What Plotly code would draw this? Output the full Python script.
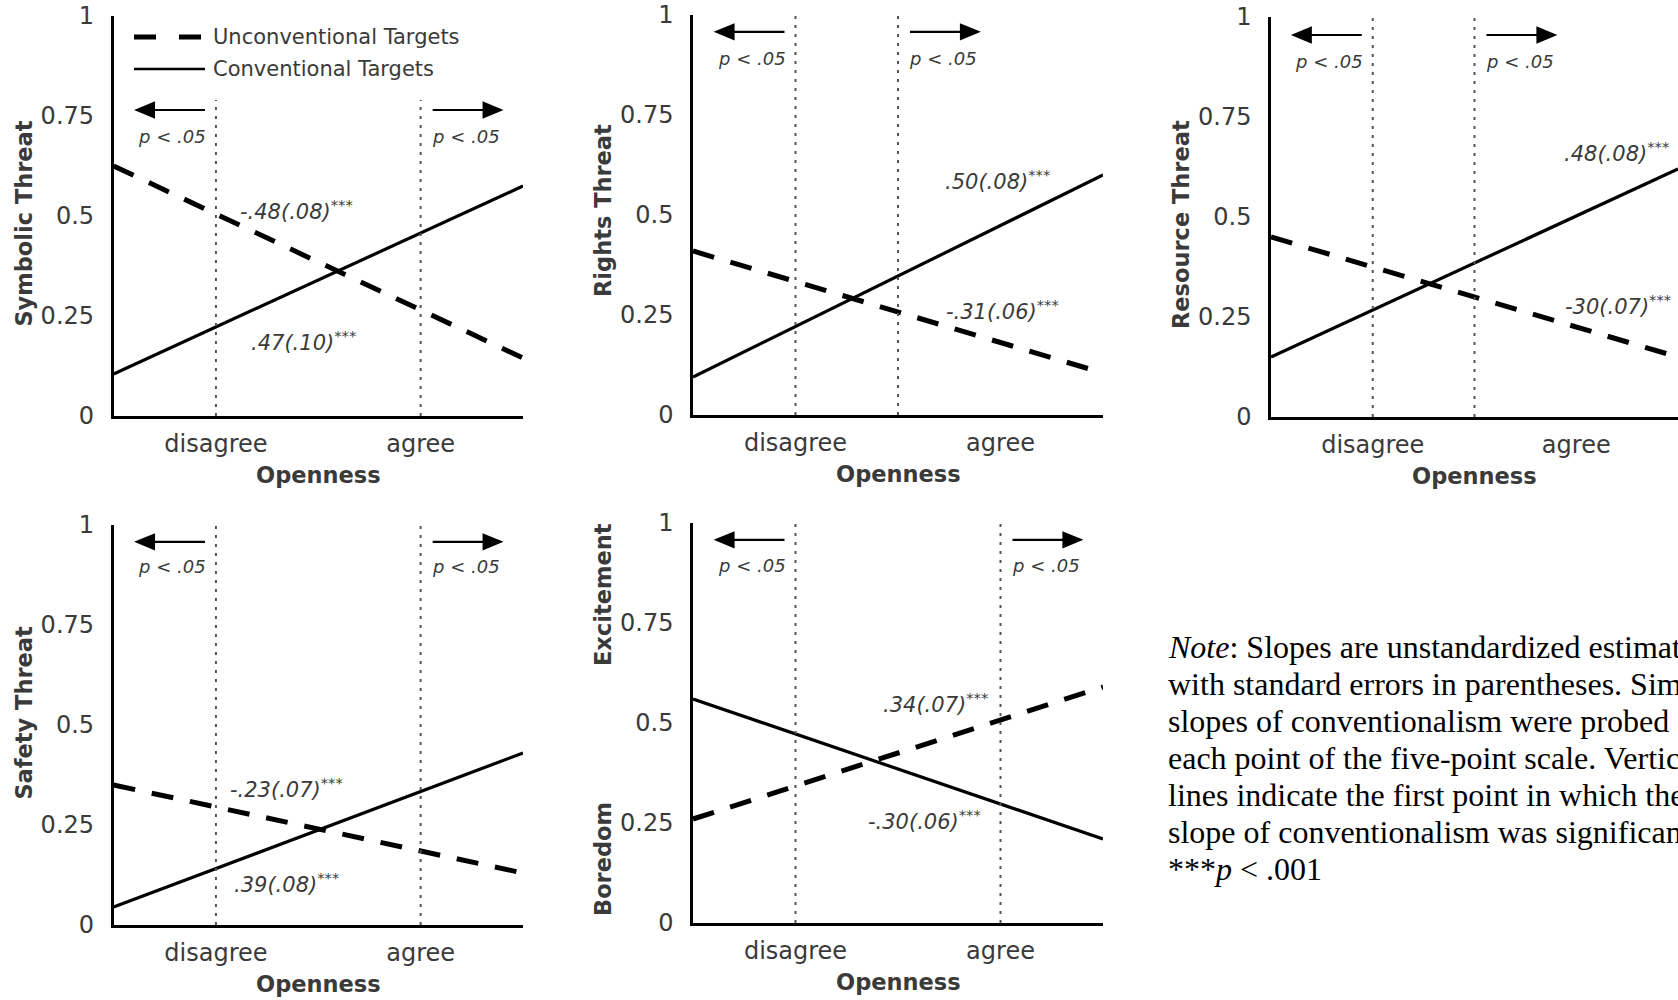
import plotly.graph_objects as go

# ---------------- data ----------------
x_levels = [1, 5]                       # openness scale endpoints
x_tick_vals = [2, 4]
x_tick_text = ["disagree", "agree"]
y_tick_vals = [0, 0.25, 0.5, 0.75, 1]
y_tick_text = ["0", "0.25", "0.5", "0.75", "1"]

series_names = ["Unconventional Targets", "Conventional Targets"]

unconv_symbolic = [0.625, 0.145]
conv_symbolic = [0.105, 0.575]
unconv_rights = [0.41, 0.105]
conv_rights = [0.095, 0.60]
unconv_resource = [0.45, 0.15]
conv_resource = [0.15, 0.62]
unconv_safety = [0.35, 0.13]
conv_safety = [0.045, 0.43]
unconv_excitement = [0.26, 0.59]
conv_excitement = [0.56, 0.21]

slope_unconv = ["-.48(.08)", "-.31(.06)", "-30(.07)", "-.23(.07)", ".34(.07)"]
slope_conv = [".47(.10)", ".50(.08)", ".48(.08)", ".39(.08)", "-.30(.06)"]

sig_lines = [[2, 4], [2, 3], [2, 3], [2, 4], [2, 4]]   # first significant points

note_lines = [
    "<i>Note</i>: Slopes are unstandardized estimates",
    "with standard errors in parentheses. Simple",
    "slopes of conventionalism were probed at",
    "each point of the five-point scale. Vertical",
    "lines indicate the first point in which the",
    "slope of conventionalism was significant.",
    "***<i>p</i> &lt; .001",
]

# ---------------- layout settings ----------------
W, H = 1678, 1000
domains = [
    ([113.6 / W, 523 / W], [0.584, 0.984]),
    ([693 / W, 1103 / W], [0.585, 0.985]),
    ([1271 / W, 1.0], [0.583, 0.983]),
    ([113.6 / W, 523 / W], [0.075, 0.475]),
    ([693 / W, 1103 / W], [0.077, 0.477]),
]
unconv_all = [unconv_symbolic, unconv_rights, unconv_resource, unconv_safety, unconv_excitement]
conv_all = [conv_symbolic, conv_rights, conv_resource, conv_safety, conv_excitement]

# label positions (data coords)
unconv_lab_pos = [(2.79, 0.515), (4.02, 0.2625), (4.41, 0.28), (2.69, 0.3425), (3.37, 0.55)]
conv_lab_pos = [(2.86, 0.1875), (3.97, 0.5875), (4.40, 0.6625), (2.69, 0.105), (3.26, 0.2575)]
dot_top = [0.79, 1, 1, 1, 1]
arrow_y = [0.765, 0.958, 0.955, 0.958, 0.958]
plabel_y = [0.70, 0.892, 0.888, 0.897, 0.895]

ytitles = [
    [("Symbolic Threat", 0.48)],
    [("Rights Threat", 0.51)],
    [("Resource Threat", 0.48)],
    [("Safety Threat", 0.53)],
    [("Excitement", 0.82), ("Boredom", 0.16)],
]

TXT = "#3a3a3a"
SANS = "DejaVu Sans"

LEFT_ARROW = "M-11,0L-70,0M-79,0L-62,7L-62,-7Z"
RIGHT_ARROW = "M12,0L71,0M80,0L63,7L63,-7Z"

fig = go.Figure()
annotations = []
shapes = []


def ax_name(i, letter):
    return letter if i == 0 else f"{letter}{i + 1}"


for i in range(5):
    xa, ya = ax_name(i, "x"), ax_name(i, "y")
    fig.add_trace(go.Scatter(
        x=x_levels, y=unconv_all[i], mode="lines", name=series_names[0],
        line=dict(color="black", width=5, dash="22px,17px"),
        xaxis=xa, yaxis=ya, showlegend=False, hoverinfo="skip"))
    fig.add_trace(go.Scatter(
        x=x_levels, y=conv_all[i], mode="lines", name=series_names[1],
        line=dict(color="black", width=3.2),
        xaxis=xa, yaxis=ya, showlegend=False, hoverinfo="skip"))

    xd, yd = domains[i]
    common = dict(showgrid=False, zeroline=False, showline=True, linecolor="black",
                  linewidth=2.5, ticks="", fixedrange=True, automargin=False)
    fig.update_layout(**{
        ("xaxis" if i == 0 else f"xaxis{i + 1}"): dict(
            domain=xd, anchor=ya, range=[1, 5], tickvals=x_tick_vals, ticktext=x_tick_text,
            tickfont=dict(family=SANS, size=24, color=TXT), ticklabelstandoff=4, **common),
        ("yaxis" if i == 0 else f"yaxis{i + 1}"): dict(
            domain=yd, anchor=xa, range=[0, 1], tickvals=y_tick_vals, ticktext=y_tick_text,
            tickfont=dict(family=SANS, size=24, color=TXT), ticklabelstandoff=12, **common),
    })

    # significance lines
    for v in sig_lines[i]:
        shapes.append(dict(type="line", xref=xa, yref=ya, x0=v, x1=v, y0=0, y1=dot_top[i],
                           line=dict(color="#555555", width=2, dash="3px,6px"), layer="above"))

    left_x, right_x = sig_lines[i]
    # arrows (pixel-sized paths anchored at the significance lines)
    for v, path in ((left_x, LEFT_ARROW), (right_x, RIGHT_ARROW)):
        shapes.append(dict(type="path", xref=xa, yref=ya, xsizemode="pixel", ysizemode="pixel",
                           xanchor=v, yanchor=arrow_y[i], path=path,
                           fillcolor="black", line=dict(color="black", width=2.2)))
    for v, sh in ((left_x, -44), (right_x, 45)):
        annotations.append(dict(xref=xa, yref=ya, x=v, y=plabel_y[i], xshift=sh,
                                text="<i>p &lt; .05</i>", showarrow=False,
                                font=dict(family=SANS, size=18, color=TXT)))

    # slope labels
    for (lx, ly), t in ((unconv_lab_pos[i], slope_unconv[i]), (conv_lab_pos[i], slope_conv[i])):
        annotations.append(dict(xref=xa, yref=ya, x=lx, y=ly,
                                text=f"<i>{t}<sup>***</sup></i>", showarrow=False,
                                font=dict(family=SANS, size=21, color=TXT)))

    # axis titles
    annotations.append(dict(xref=f"{xa} domain", yref=f"{ya} domain", x=0.5, y=0, yshift=-59,
                            text="<b>Openness</b>", showarrow=False, yanchor="middle",
                            font=dict(family=SANS, size=22.5, color=TXT)))
    for t, yy in ytitles[i]:
        annotations.append(dict(xref=f"{xa} domain", yref=f"{ya} domain", x=0, y=yy, xshift=-90,
                                text=f"<b>{t}</b>", showarrow=False, textangle=-90,
                                xanchor="center", yanchor="middle",
                                font=dict(family=SANS, size=22.5, color=TXT)))

# manual legend in the first panel
leg_rows = [(0.963, "22px,23px", 5), (0.931, "solid", 2.5)]
for (yy, dash, w), name in zip(leg_rows, series_names):
    shapes.append(dict(type="line", xref="paper", yref="paper", x0=134 / W, x1=205 / W,
                       y0=yy, y1=yy, line=dict(color="black", width=w, dash=dash)))
    annotations.append(dict(xref="paper", yref="paper", x=211 / W, y=yy, xanchor="left",
                            yanchor="middle", text=name, showarrow=False,
                            font=dict(family=SANS, size=21, color=TXT)))

# note text
note_y = [647, 684, 721, 758, 795, 832, 869]
for t, yy in zip(note_lines, note_y):
    annotations.append(dict(xref="paper", yref="paper", x=1166 / W, y=1 - yy / H,
                            xanchor="left", yanchor="middle", text=t, showarrow=False,
                            font=dict(family="Liberation Serif", size=32, color="black")))

fig.update_layout(
    template="none",
    width=W, height=H, margin=dict(l=0, r=0, t=0, b=0, autoexpand=False),
    paper_bgcolor="white", plot_bgcolor="white",
    annotations=annotations, shapes=shapes, showlegend=False,
)

fig.write_html("out.html", post_script="document.body.style.margin='0';",
               config={"displayModeBar": False})
